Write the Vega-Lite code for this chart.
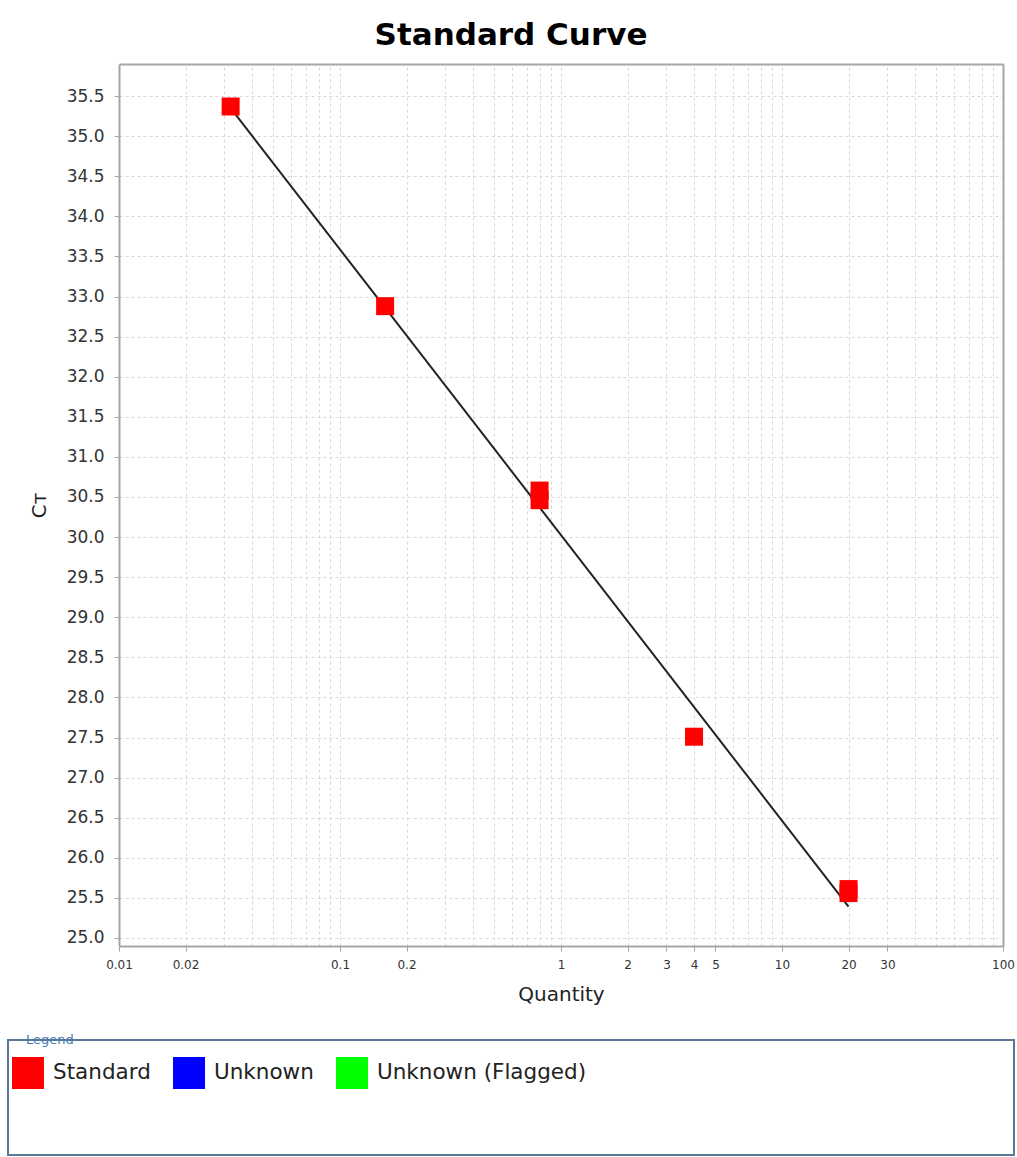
{
  "$schema": "https://vega.github.io/schema/vega-lite/v6.json",
  "padding": {"left": 7, "top": 20, "right": 0, "bottom": 0},
  "background": "white",
  "title": {"text": "Standard Curve", "fontSize": 31, "font": "DejaVu Sans", "fontWeight": "bold", "color": "#000000", "anchor": "middle", "baseline": "bottom", "offset": -19},
  "datasets": {
    "points": [
      {"Quantity": 0.032, "CT": 35.37, "Task": "Standard"},
      {"Quantity": 0.16, "CT": 32.88, "Task": "Standard"},
      {"Quantity": 0.8, "CT": 30.58, "Task": "Standard"},
      {"Quantity": 0.8, "CT": 30.46, "Task": "Standard"},
      {"Quantity": 4, "CT": 27.51, "Task": "Standard"},
      {"Quantity": 20, "CT": 25.61, "Task": "Standard"},
      {"Quantity": 20, "CT": 25.56, "Task": "Standard"}
    ],
    "fit": [
      {"Quantity": 0.032, "CT": 35.35},
      {"Quantity": 20, "CT": 25.39}
    ]
  },
  "concat": [
    {
      "width": 1006,
      "height": 882,
      "view": {"stroke": null},
      "resolve": {"axis": {"x": "independent", "y": "independent"}},
      "layer": [
        {
          "data": {"name": "fit"},
          "mark": {"type": "line", "color": "#222222", "strokeWidth": 2},
          "encoding": {
            "x": {"field": "Quantity", "type": "quantitative",
              "scale": {"type": "log", "domain": [0.01, 100], "nice": false, "range": [111, 995]},
              "axis": {"orient": "bottom", "values": [0.01, 0.02, 0.1, 0.2, 1, 2, 3, 4, 5, 10, 20, 30, 100], "format": "~g", "grid": false, "title": "Quantity", "labelFontSize": 12, "labelPadding": 8, "titleFontSize": 20, "titlePadding": 14, "labelFlush": false, "labelOverlap": false}},
            "y": {"field": "CT", "type": "quantitative",
              "scale": {"domain": [24.9, 35.9], "nice": false, "zero": false},
              "axis": {"orient": "left", "offset": -111, "values": [25, 25.5, 26, 26.5, 27, 27.5, 28, 28.5, 29, 29.5, 30, 30.5, 31, 31.5, 32, 32.5, 33, 33.5, 34, 34.5, 35, 35.5], "format": ".1f", "title": "Cᴛ", "labelFontSize": 17, "labelPadding": 10, "titleFontSize": 20, "titlePadding": 17, "grid": true, "labelOverlap": false}}
          }
        },
        {
          "data": {"name": "points"},
          "mark": {"type": "square", "size": 324, "opacity": 1},
          "encoding": {
            "x": {"field": "Quantity", "type": "quantitative",
              "scale": {"type": "log", "domain": [0.01, 100], "nice": false, "range": [111, 995]},
              "axis": {"orient": "top", "values": [0.01, 0.02, 0.03, 0.04, 0.05, 0.06, 0.07, 0.08, 0.09, 0.1, 0.2, 0.3, 0.4, 0.5, 0.6, 0.7, 0.8, 0.9, 1, 2, 3, 4, 5, 6, 7, 8, 9, 10, 20, 30, 40, 50, 60, 70, 80, 90, 100], "labels": false, "ticks": false, "domain": true, "grid": true, "title": null, "minExtent": 0}},
            "y": {"field": "CT", "type": "quantitative",
              "scale": {"domain": [24.9, 35.9], "nice": false, "zero": false},
              "axis": {"orient": "right", "offset": -11, "labels": false, "ticks": false, "domain": true, "grid": false, "title": null, "minExtent": 0}},
            "color": {"field": "Task", "type": "nominal",
              "scale": {"domain": ["Standard", "Unknown", "Unknown (Flagged)"], "range": ["#ff0000", "#0000ff", "#00ff00"]},
              "legend": {"orient": "none", "legendX": 0, "legendY": 989, "direction": "horizontal", "title": null, "symbolType": "square", "symbolSize": 1024, "symbolStrokeWidth": 0, "symbolOpacity": 1, "labelFontSize": 21.5, "labelFont": "DejaVu Sans", "labelColor": "#222222", "labelOffset": 9, "labelLimit": 400, "columnPadding": 22, "padding": 4}}
          }
        }
      ]
    },
    {
      "width": 1006,
      "height": 115,
      "view": {"stroke": "#5a7896", "strokeWidth": 2},
      "title": {"text": "Legend", "anchor": "start", "fontSize": 13, "font": "DejaVu Sans", "fontWeight": "normal", "color": "#4a78ad", "baseline": "alphabetic", "offset": -17, "dx": 18},
      "data": {"values": []},
      "mark": "point",
      "encoding": {}
    }
  ],
  "columns": 1,
  "spacing": 29,
  "config": {
    "font": "DejaVu Sans",
    "axis": {"labelFont": "DejaVu Sans", "titleFont": "DejaVu Sans", "titleFontWeight": "normal", "labelColor": "#333333", "titleColor": "#222222", "domainColor": "#a6a6a6", "domainWidth": 2, "tickColor": "#a6a6a6", "tickSize": 5, "gridColor": "#d9d9d9", "gridDash": [3, 3], "gridWidth": 1}
  }
}
